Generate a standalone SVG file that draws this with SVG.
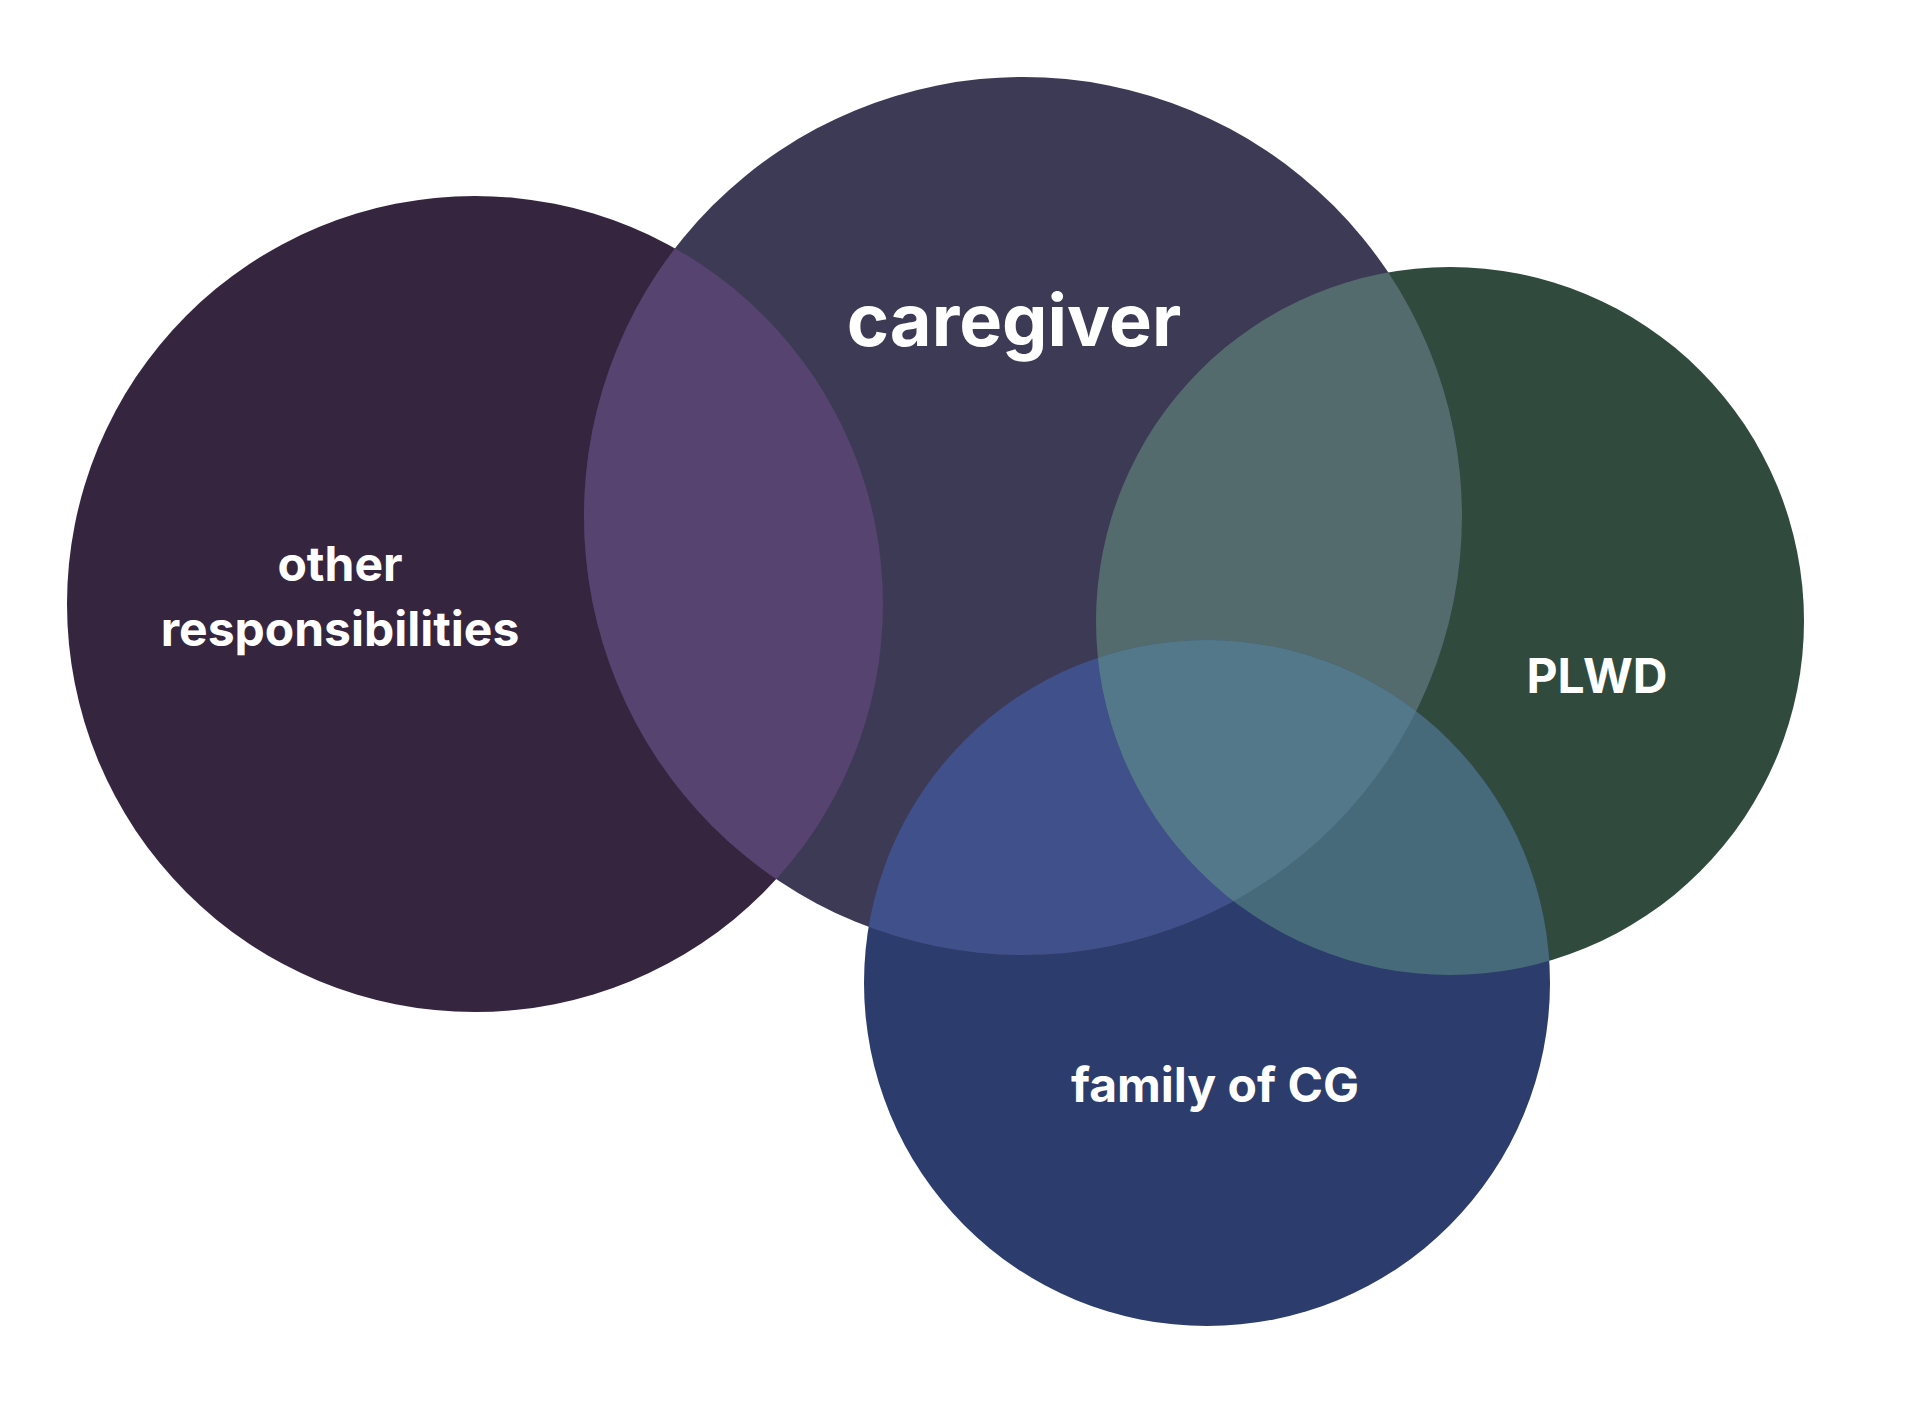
<svg xmlns="http://www.w3.org/2000/svg" width="1920" height="1411" viewBox="0 0 1920 1411">
<style>
text{font-family:Inter,"Noto Sans",sans-serif;font-weight:700;fill:#ffffff;text-anchor:middle}
</style>
<defs>
<clipPath id="cL"><circle cx="475" cy="604" r="408"/></clipPath>
<clipPath id="cC"><circle cx="1023" cy="516" r="439"/></clipPath>
<clipPath id="cP"><circle cx="1450" cy="621" r="354"/></clipPath>
<clipPath id="cF"><circle cx="1207" cy="983" r="343"/></clipPath>
</defs>
<rect width="1920" height="1411" fill="#ffffff"/>
<g id="other"><circle cx="475" cy="604" r="408" fill="#36253f"/></g>
<g id="plwd"><circle cx="1450" cy="621" r="354" fill="#304a3d"/></g>
<g id="family"><circle cx="1207" cy="983" r="343" fill="#2c3c6c"/></g>
<g id="caregiver"><circle cx="1023" cy="516" r="439" fill="#3d3a55"/></g>
<g id="overlaps">
<g clip-path="url(#cL)"><circle cx="1023" cy="516" r="439" fill="#56436f"/></g>
<g clip-path="url(#cC)"><circle cx="1450" cy="621" r="354" fill="#536b6d"/><circle cx="1207" cy="983" r="343" fill="#40508a"/></g>
<g clip-path="url(#cP)"><circle cx="1207" cy="983" r="343" fill="#466a7a"/></g>
<g clip-path="url(#cC)"><g clip-path="url(#cP)"><circle cx="1207" cy="983" r="343" fill="#527889"/></g></g>
</g>
<text x="1014" y="346" font-size="72">caregiver</text>
<text x="340" y="581" font-size="48">other</text>
<text x="340" y="646" font-size="48">responsibilities</text>
<text x="1597" y="693" font-size="48">PLWD</text>
<text x="1215" y="1102" font-size="48">family of CG</text>
</svg>
